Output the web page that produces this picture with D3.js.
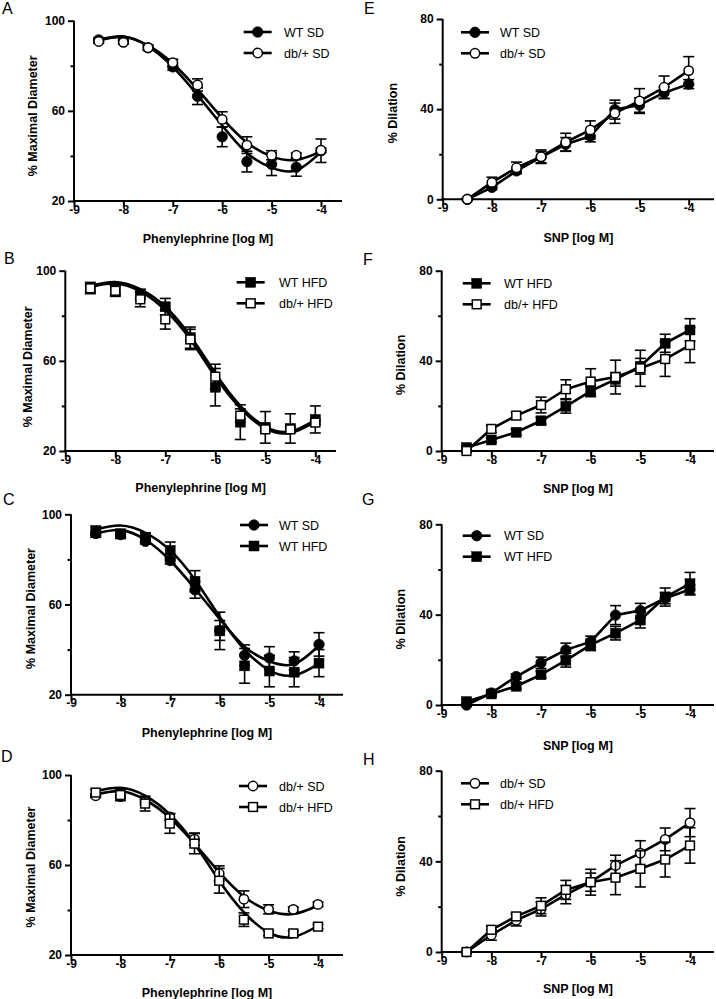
<!DOCTYPE html>
<html><head><meta charset="utf-8">
<script src="https://cdn.jsdelivr.net/npm/d3@7"></script>
<style>
body{margin:0;background:#fff;}
svg{display:block;font-family:"Liberation Sans",Arial,Helvetica,sans-serif;}
</style></head><body>
<svg id="chart" width="716" height="999"></svg>
<script>
// ---------- data ----------
const doses = [-8.5, -8, -7.5, -7, -6.5, -6, -5.5, -5, -4.5, -4];
const xTickValues = [-9, -8, -7, -6, -5, -4];
const peTicksMajor = [20, 60, 100];
const peTicksMinor = [40, 80];
const snpTicksMajor = [0, 40, 80];
const snpTicksMinor = [20, 60];

// Phenylephrine (% maximal diameter): mean, SEM, fitted curve values
const peWTSD_mean  = [91.5, 91.0, 88.0, 79.5, 66.5, 48.5, 37.5, 36.3, 35.0, 42.3];
const peWTSD_sem   = [1.0, 1.0, 1.2, 1.5, 3.7, 4.4, 4.6, 5.0, 4.0, 5.2];
const peWTSD_fit   = [91.5, 93.0, 88.7, 79.5, 67.0, 53.5, 41.3, 34.8, 33.6, 41.8];

const peDbSD_mean  = [90.8, 90.4, 88.0, 81.4, 71.5, 56.2, 44.8, 40.3, 40.3, 42.5];
const peDbSD_sem   = [0.8, 0.8, 1.0, 1.5, 2.7, 3.4, 3.7, 2.0, 1.0, 1.0];
const peDbSD_fit   = [91.3, 92.8, 89.0, 81.0, 69.5, 56.8, 46.0, 39.8, 38.2, 42.0];

const peWTHFD_mean = [92.3, 91.3, 89.5, 84.0, 70.3, 48.3, 32.8, 30.5, 30.0, 34.0];
const peWTHFD_sem  = [2.5, 2.0, 2.3, 3.7, 4.7, 8.3, 7.7, 7.0, 6.5, 6.0];
const peWTHFD_fit  = [93.3, 95.0, 91.8, 84.0, 71.0, 54.5, 40.0, 30.8, 28.6, 33.8];

const peDbHFD_mean = [92.2, 91.1, 87.3, 78.4, 69.5, 53.0, 35.7, 29.6, 29.6, 32.6];
const peDbHFD_sem  = [1.5, 2.5, 3.3, 4.3, 4.5, 5.5, 3.0, 1.0, 1.0, 1.0];
const peDbHFD_fit  = [92.8, 94.3, 90.8, 82.5, 69.5, 53.0, 39.0, 30.0, 28.0, 33.0];

// SNP (% dilation): mean, SEM
const snpWTSD_mean  = [0, 5.3, 12.6, 18.7, 24.4, 28.0, 39.8, 41.8, 47.3, 51.1];
const snpWTSD_sem   = [0.5, 1.0, 1.2, 2.5, 3.0, 2.5, 4.2, 3.2, 2.5, 2.0];
const snpDbSD_mean  = [0, 7.5, 14.0, 18.9, 25.3, 30.8, 38.2, 43.6, 49.7, 57.1];
const snpDbSD_sem   = [0.5, 2.3, 2.5, 3.0, 4.0, 4.0, 4.5, 5.5, 5.0, 6.2];
const snpWTHFD_mean = [1.5, 4.9, 8.3, 13.4, 19.8, 26.6, 31.8, 37.6, 47.8, 53.7];
const snpWTHFD_sem  = [1.0, 1.0, 1.3, 1.5, 3.0, 2.5, 3.0, 3.5, 4.0, 5.0];
const snpDbHFD_mean = [0, 9.8, 15.7, 20.4, 27.4, 30.8, 32.8, 36.7, 40.8, 47.0];
const snpDbHFD_sem  = [0.5, 1.5, 1.5, 3.5, 4.2, 5.7, 7.5, 8.0, 7.7, 7.8];

const groups = {
  WTSD:  {label: "WT SD",     shape: "circle", filled: true},
  DbSD:  {label: "db/+ SD",   shape: "circle", filled: false},
  WTHFD: {label: "WT HFD",    shape: "square", filled: true},
  DbHFD: {label: "db/+ HFD",  shape: "square", filled: false}
};
const peData = {
  WTSD:  {mean: peWTSD_mean,  sem: peWTSD_sem,  fit: peWTSD_fit},
  DbSD:  {mean: peDbSD_mean,  sem: peDbSD_sem,  fit: peDbSD_fit},
  WTHFD: {mean: peWTHFD_mean, sem: peWTHFD_sem, fit: peWTHFD_fit},
  DbHFD: {mean: peDbHFD_mean, sem: peDbHFD_sem, fit: peDbHFD_fit}
};
const snpData = {
  WTSD:  {mean: snpWTSD_mean,  sem: snpWTSD_sem},
  DbSD:  {mean: snpDbSD_mean,  sem: snpDbSD_sem},
  WTHFD: {mean: snpWTHFD_mean, sem: snpWTHFD_sem},
  DbHFD: {mean: snpDbHFD_mean, sem: snpDbHFD_sem}
};

// ---------- layout ----------
const panels = [
  {letter:"A", lx:2,   ly:13.5, type:"pe",  keys:["WTSD","DbSD"],   left:74,    x4:321,   right:342, top:20.7,  bottom:201,   yl:37.5, yshift:5, xlabDy:42, legX:257.7, legTX:284, legY:32},
  {letter:"B", lx:4,   ly:264,  type:"pe",  keys:["WTHFD","DbHFD"], left:65.3,  x4:315.3, right:336, top:270.7, bottom:451,   yl:33.6, yshift:6, xlabDy:41, legX:250.7, legTX:279, legY:282.3},
  {letter:"C", lx:3,   ly:505,  type:"pe",  keys:["WTSD","WTHFD"],  left:71,    x4:319,   right:343, top:514.3, bottom:694.7, yl:36,   yshift:4, xlabDy:42.5, legX:254, legTX:279, legY:525},
  {letter:"D", lx:1,   ly:762,  type:"pe",  keys:["DbSD","DbHFD"],  left:71,    x4:318,   right:343, top:775,   bottom:955,   yl:36,   yshift:2, xlabDy:42, legX:253,   legTX:279, legY:786},
  {letter:"E", lx:364, ly:13.5, type:"snp", keys:["WTSD","DbSD"],   left:442.7, x4:688.7, right:714, top:19,    bottom:199.3, yl:45.4, yshift:4, xlabDy:43, legX:475,   legTX:500, legY:32.3},
  {letter:"F", lx:363, ly:265,  type:"snp", keys:["WTHFD","DbHFD"], left:441.7, x4:690,   right:714, top:270.7, bottom:451,   yl:36.7, yshift:4, xlabDy:41.5, legX:476.7, legTX:504, legY:283.3},
  {letter:"G", lx:362, ly:505,  type:"snp", keys:["WTSD","WTHFD"],  left:441.7, x4:690,   right:714, top:524.3, bottom:705,   yl:36.7, yshift:4.5, xlabDy:45, legX:476.7, legTX:504, legY:535.7},
  {letter:"H", lx:363, ly:765,  type:"snp", keys:["DbSD","DbHFD"],  left:441.7, x4:690,   right:714, top:770.7, bottom:952,   yl:36.7, yshift:5, xlabDy:41, legX:475,   legTX:500, legY:783.3}
];

const svg = d3.select("#chart");
const FONT_TICK = "12px", FONT_LAB = "12.5px";

function drawMarker(g, shape, filled, cx, cy) {
  if (shape === "circle") {
    g.append("circle").attr("cx", cx).attr("cy", cy).attr("r", filled ? 5.2 : 4.7)
      .attr("fill", filled ? "#000" : "#fff").attr("stroke", "#000").attr("stroke-width", filled ? 0.8 : 1.5);
  } else {
    const s = filled ? 10 : 8.8;
    g.append("rect").attr("x", cx - s/2).attr("y", cy - s/2).attr("width", s).attr("height", s)
      .attr("fill", filled ? "#000" : "#fff").attr("stroke", "#000").attr("stroke-width", filled ? 0.5 : 1.5);
  }
}

panels.forEach(p => {
  const isPE = p.type === "pe";
  const x = d3.scaleLinear().domain([-9, -4]).range([p.left, p.x4]);
  const y = d3.scaleLinear().domain(isPE ? [20, 100] : [0, 80]).range([p.bottom, p.top]);
  const g = svg.append("g");

  // panel letter
  svg.append("text").attr("x", p.lx).attr("y", p.ly).attr("font-size", "16px").text(p.letter);

  // x axis
  const xa = g.append("g").attr("transform", `translate(0,${p.bottom})`)
    .call(d3.axisBottom(x).tickValues(xTickValues).tickSize(6).tickSizeOuter(0).tickFormat(d3.format("d")));
  xa.select(".domain").remove();
  xa.selectAll(".tick line").attr("stroke-width", 2);
  xa.selectAll(".tick text").attr("y", 4).attr("font-size", FONT_TICK).attr("font-weight", "bold")
    .attr("font-family", "inherit").text(d => (d < 0 ? "-" : "") + Math.abs(d));
  g.append("line").attr("x1", p.left - 1).attr("x2", p.right).attr("y1", p.bottom).attr("y2", p.bottom)
    .attr("stroke", "#000").attr("stroke-width", 2);

  // y axis
  const ya = g.append("g").attr("transform", `translate(${p.left},0)`)
    .call(d3.axisLeft(y).tickValues(isPE ? peTicksMajor : snpTicksMajor).tickSize(6).tickPadding(3).tickSizeOuter(0));
  ya.select(".domain").remove();
  ya.selectAll(".tick line").attr("stroke-width", 2);
  ya.selectAll(".tick text").attr("font-size", FONT_TICK).attr("font-weight", "bold").attr("font-family", "inherit");
  const ym = g.append("g").attr("transform", `translate(${p.left},0)`)
    .call(d3.axisLeft(y).tickValues(isPE ? peTicksMinor : snpTicksMinor).tickSize(3.5).tickFormat(""));
  ym.select(".domain").remove();
  ym.selectAll(".tick line").attr("stroke-width", 2);
  g.append("line").attr("x1", p.left).attr("x2", p.left).attr("y1", p.top).attr("y2", p.bottom + 1)
    .attr("stroke", "#000").attr("stroke-width", 2);

  // axis titles
  g.append("text").attr("x", (p.left + p.right) / 2).attr("y", p.bottom + p.xlabDy)
    .attr("text-anchor", "middle").attr("font-size", FONT_LAB).attr("font-weight", "bold")
    .text(isPE ? "Phenylephrine [log M]" : "SNP [log M]");
  const cy = (p.top + p.bottom) / 2 + p.yshift;
  g.append("text").attr("transform", `translate(${p.left - p.yl},${cy}) rotate(-90)`)
    .attr("text-anchor", "middle").attr("font-size", FONT_LAB).attr("font-weight", "bold")
    .text(isPE ? "% Maximal Diameter" : "% Dilation");

  const src = isPE ? peData : snpData;
  // lines / curves
  p.keys.forEach(k => {
    const d = src[k];
    const vals = isPE ? d.fit : d.mean;
    const line = d3.line().x((v, i) => x(doses[i])).y(v => y(v))
      .curve(isPE ? d3.curveNatural : d3.curveLinear);
    g.append("path").attr("d", line(vals)).attr("fill", "none").attr("stroke", "#000")
      .attr("stroke-width", 2.6).attr("stroke-linejoin", "round");
  });
  // error bars + markers, series by series
  p.keys.forEach(k => {
    const d = src[k], grp = groups[k];
    const eg = g.append("g").attr("stroke", "#000").attr("stroke-width", 1.6);
    d.mean.forEach((m, i) => {
      const cx = x(doses[i]), y1 = y(m + d.sem[i]), y2 = y(m - d.sem[i]);
      eg.append("line").attr("x1", cx).attr("x2", cx).attr("y1", y1).attr("y2", y2);
      eg.append("line").attr("x1", cx - 5.5).attr("x2", cx + 5.5).attr("y1", y1).attr("y2", y1);
      eg.append("line").attr("x1", cx - 5.5).attr("x2", cx + 5.5).attr("y1", y2).attr("y2", y2);
    });
    const mg = g.append("g");
    d.mean.forEach((m, i) => drawMarker(mg, grp.shape, grp.filled, x(doses[i]), y(m)));
  });

  // legend
  p.keys.forEach((k, j) => {
    const grp = groups[k];
    const ly = p.legY + j * 21;
    g.append("line").attr("x1", p.legX - 14).attr("x2", p.legX + 14).attr("y1", ly).attr("y2", ly)
      .attr("stroke", "#000").attr("stroke-width", 2.6);
    drawMarker(g, grp.shape, grp.filled, p.legX, ly);
    g.append("text").attr("x", p.legTX).attr("y", ly).attr("dy", "0.36em")
      .attr("font-size", FONT_LAB).text(grp.label);
  });
});
</script>
</body></html>
